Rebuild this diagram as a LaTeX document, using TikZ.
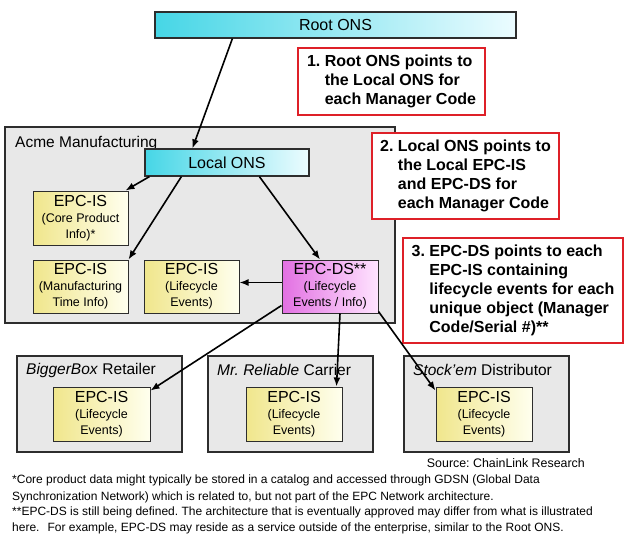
\documentclass[tikz,border=0pt]{standalone}
\usepackage{fontspec}
\setmainfont{Liberation Sans}
\usetikzlibrary{arrows.meta}

\definecolor{framegray}{RGB}{45,45,45}
\definecolor{panelgray}{RGB}{232,232,232}
\definecolor{onsleft}{RGB}{70,214,230}
\definecolor{onsright}{RGB}{236,252,255}
\definecolor{isleft}{RGB}{240,230,140}
\definecolor{isright}{RGB}{255,255,238}
\definecolor{dsleft}{RGB}{226,112,226}
\definecolor{dsright}{RGB}{255,228,255}
\definecolor{notered}{RGB}{222,32,40}

\newcommand{\subsize}{\fontsize{12.5}{16}\selectfont}
\newcommand{\bigsize}{\fontsize{16}{18}\selectfont}

\begin{document}
\frenchspacing
\begin{tikzpicture}[x=1pt, y=-1pt,
  panel/.style={draw=framegray, line width=1.6pt, fill=panelgray, inner sep=0pt},
  onsbox/.style={draw=framegray, line width=1.2pt, left color=onsleft, right color=onsright,
                 inner sep=0pt, font=\bigsize},
  isbox/.style={draw=framegray, line width=1pt, left color=isleft, right color=isright,
                minimum width=95pt, minimum height=54pt, inner sep=0pt, align=center, font=\subsize},
  dsbox/.style={isbox, left color=dsleft, right color=dsright},
  note/.style={draw=notered, line width=2.2pt, fill=white, align=left, inner sep=0pt,
               font=\fontsize{16}{19}\selectfont\bfseries},
  panellabel/.style={anchor=west, inner sep=0pt, font=\fontsize{15.5}{18}\selectfont},
  link/.style={line width=1.6pt, -{Latex[length=9pt,width=7pt]}},
  footnote/.style={anchor=west, inner sep=0pt, font=\fontsize{12}{14}\selectfont}
]
\useasboundingbox (0,0) rectangle (625,536);
\fill[white] (0,0) rectangle (625,536);

% Root ONS
\node[onsbox, minimum width=361pt, minimum height=26pt] (root) at (335.5,25) {Root ONS};

% enterprise
\node[panel, minimum width=390pt, minimum height=196pt] (acme) at (200,225) {};
\node[panellabel] (acmelabel) at (15,143) {Acme Manufacturing};
\node[onsbox, minimum width=164pt, minimum height=27pt] (local) at (227,162.5) {Local ONS};
\node[isbox] (core) at (80.5,218) {{\bigsize EPC-IS}\\(Core Product\\Info)*};
\node[isbox, minimum height=53pt] (mfg) at (80.5,286.5) {{\bigsize EPC-IS}\\(Manufacturing\\Time Info)};
\node[isbox, minimum height=53pt] (life) at (191.5,286.5) {{\bigsize EPC-IS}\\(Lifecycle\\Events)};
\node[dsbox, minimum width=96pt, minimum height=53pt] (ds) at (330,286.5) {{\bigsize EPC-DS**}\\(Lifecycle\\Events / Info)};

% callouts
\node[note, minimum width=187pt, minimum height=67pt] (n1) at (391.5,81.5)
  {1. Root ONS points to\\\phantom{1. }the Local ONS for\\\phantom{1. }each Manager Code};
\node[note, minimum width=187pt, minimum height=86pt] (n2) at (465.5,176)
  {2. Local ONS points to\\\phantom{2. }the Local EPC-IS\\\phantom{2. }and EPC-DS for\\\phantom{2. }each Manager Code};
\node[note, minimum width=220pt, minimum height=105pt] (n3) at (513,290.5)
  {3. EPC-DS points to each\\\phantom{3. }EPC-IS containing\\\phantom{3. }lifecycle events for each\\\phantom{3. }unique object (Manager\\\phantom{3. }Code/Serial \#)**};

% trading partners
\node[panel, minimum width=165pt, minimum height=96pt] (bb) at (99.5,404) {};
\node[panellabel] (bblabel) at (26,370) {\textit{BiggerBox} Retailer};
\node[isbox, minimum width=97pt] (bbin) at (101.5,414) {{\bigsize EPC-IS}\\(Lifecycle\\Events)};

\node[panel, minimum width=165pt, minimum height=96pt] (mr) at (290.5,404) {};
\node[panellabel] (mrlabel) at (217,370) {\textit{Mr. Reliable} Carrier};
\node[isbox, minimum width=96pt] (mrin) at (294,414) {{\bigsize EPC-IS}\\(Lifecycle\\Events)};

\node[panel, minimum width=165pt, minimum height=96pt] (se) at (486.5,404) {};
\node[panellabel] (selabel) at (413,370) {\textit{Stock'em} Distributor};
\node[isbox, minimum width=96pt] (sein) at (484,414) {{\bigsize EPC-IS}\\(Lifecycle\\Events)};

% lookups
\draw[link] ([xshift=78pt]root.south west) -- ([xshift=48pt]local.north west);
\draw[link] ([xshift=5pt]local.south west) -- ([xshift=-3pt]core.north east);
\draw[link] ([xshift=37pt]local.south west) -- (mfg.north east);
\draw[link] ([xshift=115pt]local.south west) -- ([xshift=-10pt]ds.north);
\draw[link] ([yshift=4pt]ds.west) -- ([yshift=4pt]life.east);
\draw[link] ([yshift=8pt]ds.south west) -- ([yshift=-4pt]bbin.north east);
\draw[link] ([xshift=10pt]ds.south) -- ([xshift=-6pt]mrin.north east);
\draw[link] ([yshift=2pt]ds.south east) -- ([yshift=-4pt]sein.north west);

% source and footnotes
\node[anchor=east, inner sep=0pt, font=\fontsize{12.4}{14}\selectfont] (src) at (585,463) {Source: ChainLink Research};
\node[footnote] (f1) at (12,480) {*Core product data might typically be stored in a catalog and accessed through GDSN (Global Data};
\node[footnote] (f2) at (12,497) {Synchronization Network) which is related to, but not part of the EPC Network architecture.};
\node[footnote] (f3) at (12,512) {**EPC-DS is still being defined. The architecture that is eventually approved may differ from what is illustrated};
\node[footnote] (f4) at (12,528) {here.\hspace{8pt}For example, EPC-DS may reside as a service outside of the enterprise, similar to the Root ONS.};
\end{tikzpicture}
\end{document}
